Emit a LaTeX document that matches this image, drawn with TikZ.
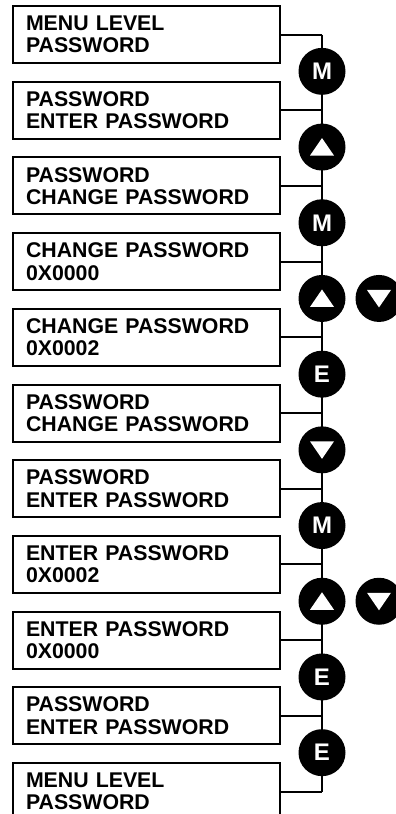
\documentclass[tikz,border=0pt]{standalone}
\usepackage{fontspec}
\setmainfont{Liberation Sans}
\begin{document}
\begin{tikzpicture}[x=1pt,y=1pt,
  box/.style={draw, line width=2pt, minimum width=267pt, minimum height=57pt,
    inner xsep=13pt, text width=241pt, align=left, anchor=north west,
    font=\fontsize{21.3}{22.3}\selectfont\bfseries},
  key/.style={circle, fill=black, minimum size=47pt, inner sep=0pt, text=white,
    font=\fontsize{24}{24}\selectfont\bfseries},
  link/.style={line width=2pt}]
\clip (0,0) rectangle (396,-814);
% boxes
\node[box] (b1)  at (12,-5)     {MENU LEVEL\\PASSWORD};
\node[box] (b2)  at (12,-80.7)  {PASSWORD\\ENTER PASSWORD};
\node[box] (b3)  at (12,-156.4) {PASSWORD\\CHANGE PASSWORD};
\node[box] (b4)  at (12,-232.1) {CHANGE PASSWORD\\0X0000};
\node[box] (b5)  at (12,-307.8) {CHANGE PASSWORD\\0X0002};
\node[box] (b6)  at (12,-383.5) {PASSWORD\\CHANGE PASSWORD};
\node[box] (b7)  at (12,-459.2) {PASSWORD\\ENTER PASSWORD};
\node[box] (b8)  at (12,-534.9) {ENTER PASSWORD\\0X0002};
\node[box] (b9)  at (12,-610.6) {ENTER PASSWORD\\0X0000};
\node[box] (b10) at (12,-686.3) {PASSWORD\\ENTER PASSWORD};
\node[box] (b11) at (12,-762)   {MENU LEVEL\\PASSWORD};
% spine
\coordinate (s1) at (b1.east -| 322,0);
\coordinate (s11) at (b11.east -| 322,0);
\draw[link] (s1) -- (s11);
\foreach \i in {1,...,11}{
  \draw[link] (b\i.east) -- (b\i.east -| 322,0);
}
% keys
\node[key] (c1)  at (322,-71.35)  {M};
\node[key] (c2)  at (322,-147.05) {};
\node[key] (c3)  at (322,-222.75) {M};
\node[key] (c4)  at (322,-298.45) {};
\node[key] (d4)  at (379,-298.45) {};
\node[key] (c5)  at (322,-374.15) {E};
\node[key] (c6)  at (322,-449.85) {};
\node[key] (c7)  at (322,-525.55) {M};
\node[key] (c8)  at (322,-601.25) {};
\node[key] (d8)  at (379,-601.25) {};
\node[key] (c9)  at (322,-676.95) {E};
\node[key] (c10) at (322,-752.65) {E};
% arrow glyphs
\foreach \n in {c2,c4,c8}{
  \fill[white] ([shift={(0,9)}]\n.center) -- ([shift={(-12,-8.5)}]\n.center) -- ([shift={(12,-8.5)}]\n.center) -- cycle;
}
\foreach \n in {c6,d4,d8}{
  \fill[white] ([shift={(0,-9)}]\n.center) -- ([shift={(-12,8.5)}]\n.center) -- ([shift={(12,8.5)}]\n.center) -- cycle;
}
\end{tikzpicture}
\end{document}
